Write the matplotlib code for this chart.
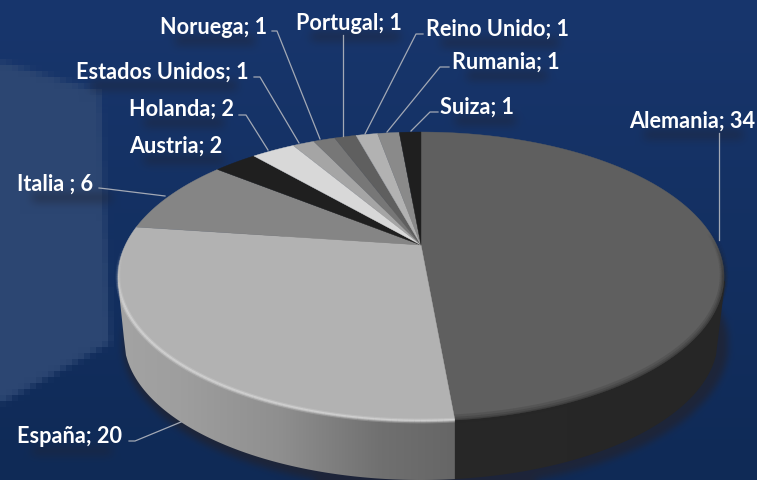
import numpy as np
import matplotlib
matplotlib.use("Agg")
import matplotlib.pyplot as plt
from matplotlib.patches import Polygon

paises = ["Alemania", "España", "Italia", "Austria", "Holanda", "Estados Unidos",
          "Noruega", "Portugal", "Reino Unido", "Rumania", "Suiza"]
valores = [34, 20, 6, 2, 2, 1, 1, 1, 1, 1, 1]
etiquetas = ["Alemania; 34", "España; 20", "Italia ; 6", "Austria; 2", "Holanda; 2",
             "Estados Unidos; 1", "Noruega; 1", "Portugal; 1", "Reino Unido; 1",
             "Rumania; 1", "Suiza; 1"]
colores = ["#5f5f5f", "#b2b2b2", "#858585", "#1f1f1f", "#d8d8d8", "#a5a5a5",
           "#777777", "#5f5f5f", "#b2b2b2", "#8a8a8a", "#1f1f1f"]

# where each label sits in the picture (left edge, middle)
pos_texto = [(629, 121), (17, 437), (17, 184), (129, 146), (129, 109), (76, 72),
             (160, 27), (296, 23), (426, 29), (452, 62), (440, 107)]
# leader lines, Austria has none
guias = [[(719, 134), (719, 241)],
         [(129, 442), (135, 442), (181, 423)],
         [(99, 189), (108, 190), (165, 197)],
         None,
         [(239, 116), (246, 116), (268, 151)],
         [(254, 78), (260, 78), (299, 144)],
         [(272, 32), (277, 32), (320, 140)],
         [(343, 36), (343, 137)],
         [(423, 35), (416, 35), (365, 135)],
         [(449, 68), (440, 68), (387, 133)],
         [(438, 113), (430, 113), (411, 132)]]

W, H = 757, 481
CX, APEX_Y = 421.0, 246.0
K = 0.218
RX, RY = 295.7, 137.6


def proyecta(ang):
    # angle clockwise from the top of the disc, seen with perspective
    u, v = np.sin(ang), -np.cos(ang)
    w = 1 - K * v
    return CX + RX * u / w, APEX_Y + RY * v / w


def borde_inferior(x):
    return 340 + 141 * np.sqrt(np.clip(1 - ((x - CX) / 297.0) ** 2, 0, 1))


def difumina(a, n):
    # box blur run three times, edges padded so the borders stay bright
    nucleo = np.ones(n) / n
    p = n * 2
    a = np.pad(a, p, mode="edge")
    for _ in range(3):
        a = np.apply_along_axis(lambda f: np.convolve(f, nucleo, mode="same"), 0, a)
        a = np.apply_along_axis(lambda f: np.convolve(f, nucleo, mode="same"), 1, a)
    return a[p:-p, p:-p]


def fondo():
    yy, xx = np.mgrid[0:H, 0:W]
    arriba = np.array([0x18, 0x36, 0x6d]) / 255
    abajo = np.array([0x0f, 0x2a, 0x56]) / 255
    t = (yy / H)[..., None]
    img = arriba * (1 - t) + abajo * t

    # pale pixelated block on the left
    mask = ((xx < 97 + (yy - 85) * 0.04) & (yy > 60 + xx * 0.3) & (yy < 345 + (100 - xx) * 0.55)).astype(float)
    mask = difumina(mask, 5)
    mask = np.kron(mask[::6, ::6], np.ones((6, 6)))[:H, :W]
    img = img * (1 - mask[..., None]) + (np.array([0x2c, 0x46, 0x72]) / 255) * mask[..., None]

    # soft shadows under the labels
    sombra = np.zeros((H, W))
    for (x, y), txt in zip(pos_texto, etiquetas):
        ancho = len(txt) * 9.5
        sombra[y + 10:y + 19, x + 15:int(min(x + ancho, W))] = 0.55
    sombra = difumina(sombra, 9)
    # shadow of the disc
    disco = ((xx - CX - 4) / 303.0) ** 2 + ((yy - 345) / 145.0) ** 2 < 1
    sombra = np.maximum(sombra, difumina(disco.astype(float), 7) * 0.85)
    oscuro = np.array([0x20, 0x24, 0x34]) / 255
    s = np.clip(sombra, 0, 1)[..., None]
    return img * (1 - s) + oscuro * s


def trazo(angs, alfas, color, lw, dy=0.0):
    # rim stroke cut in short pieces so it can fade in and out
    px, py = proyecta(angs)
    for j in range(len(angs) - 1):
        ax.plot(px[j:j + 2], py[j:j + 2] + dy, color=color, lw=lw, alpha=alfas[j],
                zorder=4, solid_capstyle="butt")


fig = plt.figure(figsize=(W / 100, H / 100), dpi=100)
ax = fig.add_axes([0, 0, 1, 1])
ax.imshow(fondo(), extent=(0, W, H, 0), interpolation="nearest", aspect="auto", zorder=0)
ax.axis("off")

total = sum(valores)
cortes = 2 * np.pi * np.cumsum([0] + valores) / total

# outer wall, shaded from left to right
x_inf = np.linspace(CX - 297, CX + 297, 300)
pts = [(718, 270), (725, 283)] + [(x, borde_inferior(x)) for x in x_inf[::-1]] + [(118, 283), (421, 200)]
x_front = proyecta(cortes[1])[0]
gx = np.arange(118, 726)
g = np.interp(gx, [118, 180, 280, 380, x_front - 1, x_front, 725],
              [0.64, 0.62, 0.56, 0.44, 0.40, 0.155, 0.15])
grad = np.repeat(g[None, :, None], 3, axis=2)
pared = ax.imshow(grad, extent=(118, 726, H, 0), aspect="auto", interpolation="bilinear",
                  vmin=0, vmax=1, zorder=1)
pared.set_clip_path(Polygon(pts, closed=True, transform=ax.transData))
ax.set_xlim(0, W)
ax.set_ylim(H, 0)

# top face
for i, color in enumerate(colores):
    angs = np.linspace(cortes[i], cortes[i + 1], max(int(valores[i] * 12), 10))
    px, py = proyecta(angs)
    poly = [(CX, APEX_Y)] + list(zip(px, py))
    ax.add_patch(Polygon(poly, closed=True, facecolor=color, edgecolor=color, linewidth=0.3, zorder=3))

# bevel on the front rim: dark on Alemania, bright on España
a_ale = np.linspace(np.pi / 2 - 0.1, cortes[1], 90)
entrada = np.clip(np.linspace(0, 1, 89) * 5, 0, 1)
for lw, dy, al in zip([6, 4, 2.5], [-1.5, -0.5, 0.5], [0.16, 0.2, 0.3]):
    trazo(a_ale, entrada * al, "#262626", lw, dy)

a_esp = np.linspace(cortes[1], np.pi * 1.5, 110)
salida = np.clip((1 - np.linspace(0, 1, 109)) * 4, 0, 1)
for lw, al in zip([3.5, 1.8], [0.22, 0.45]):
    trazo(a_esp, salida * al, "#e6e6e6", lw)

for guia in guias:
    if guia is None:
        continue
    gx_, gy_ = zip(*guia)
    ax.plot(gx_, gy_, color="#a3a9b5", lw=0.9, zorder=5)

for (x, y), txt in zip(pos_texto, etiquetas):
    ax.text(x, y, txt, color="white", fontsize=15.6, fontweight="bold", family="Lato",
            ha="left", va="center", zorder=6)

fig.savefig("out.png", dpi=100)
